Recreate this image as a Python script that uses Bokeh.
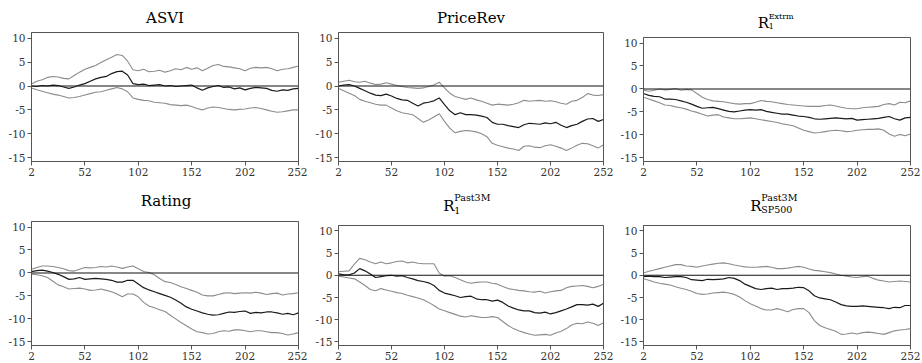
from bokeh.plotting import figure
from bokeh.models import Range1d, FixedTicker, Span, Div, CustomJSTickFormatter
from bokeh.layouts import column, row
from bokeh.embed import file_html
from bokeh.resources import INLINE

days = list(range(2, 253, 5))
x_ticks = [2, 52, 102, 152, 202, 252]
y_ticks = [-15, -10, -5, 0, 5, 10]

asvi_mid = [0.0, -0.1, 0.1, 0.0, 0.2, 0.1, -0.2, -0.5, -0.2, 0.2, 0.5, 1.0, 1.5, 1.8, 2.0, 2.6, 3.0, 3.1, 2.3, 0.5,
            0.3, 0.4, 0.1, 0.2, 0.3, 0.0, 0.1, -0.1, 0.0, 0.1, 0.2, -0.4, -0.9, -0.4, -0.1, 0.1, -0.3, -0.2, -0.6, -0.4,
            -0.8, -0.5, -0.3, -0.4, -0.5, -0.9, -1.1, -0.8, -0.9, -0.6, -0.5]
asvi_up = [0.4, 1.0, 1.3, 1.8, 2.0, 1.9, 1.6, 1.5, 2.2, 2.9, 3.5, 3.9, 4.3, 4.9, 5.5, 6.0, 6.6, 6.4, 5.2, 3.4,
           3.2, 3.5, 3.0, 3.1, 3.3, 2.9, 3.2, 3.6, 3.4, 3.9, 3.5, 3.8, 3.2, 3.7, 4.3, 4.5, 4.1, 4.0, 3.8, 3.6,
           3.2, 3.7, 3.9, 3.8, 3.9, 3.6, 3.2, 3.5, 3.6, 3.9, 4.2]
asvi_lo = [-0.4, -0.8, -1.1, -1.4, -1.7, -1.9, -2.2, -2.5, -2.4, -2.2, -1.9, -1.6, -1.3, -1.2, -0.9, -0.6, -0.3, -0.6, -1.2, -2.5,
           -2.8, -3.0, -3.1, -3.4, -3.5, -3.6, -3.9, -4.0, -4.1, -4.0, -4.3, -4.7, -5.0, -4.6, -4.4, -4.5, -4.7, -4.9, -5.0, -4.9,
           -4.8, -4.6, -4.5, -4.7, -5.0, -5.3, -5.5, -5.4, -5.2, -5.0, -5.0]

prev_mid = [0.0, 0.2, 0.3, 0.0, -0.5, -1.0, -1.5, -1.9, -2.0, -1.7, -2.1, -2.6, -2.9, -3.0, -3.6, -4.2, -3.6, -3.4, -3.1, -2.5,
            -3.9, -5.2, -6.0, -5.6, -6.0, -6.0, -6.1, -6.3, -6.6, -7.6, -8.0, -8.0, -8.3, -8.5, -8.7, -8.1, -7.8, -7.9, -8.0, -7.7,
            -7.9, -7.6, -8.2, -8.7, -8.3, -8.0, -7.4, -6.9, -6.8, -7.4, -7.0]
prev_up = [0.8, 1.0, 1.2, 0.9, 0.8, 1.0, 0.6, 0.3, 0.4, 0.7, 0.4, 0.1, -0.1, -0.3, -0.4, -0.5, -0.4, -0.1, 0.2, 0.8,
           -0.4, -1.5, -2.2, -2.5, -2.8, -2.5, -2.9, -3.2, -3.6, -4.0, -3.8, -3.9, -4.0, -3.8, -3.5, -3.0, -3.2, -3.1, -3.0, -3.2,
           -3.1, -3.3, -3.6, -3.8, -3.2, -3.0, -2.4, -1.6, -1.9, -2.0, -1.8]
prev_lo = [-0.5, -1.0, -1.5, -2.0, -2.8, -3.2, -3.5, -3.8, -4.0, -4.0, -4.6, -5.2, -5.6, -5.8, -6.0, -6.8, -7.6, -7.1, -6.5, -5.8,
           -7.4, -8.8, -9.8, -9.5, -9.3, -9.4, -9.6, -10.0, -10.6, -12.0, -12.4, -12.7, -13.0, -13.2, -13.5, -12.6, -12.5, -12.8, -12.9, -12.5,
           -12.3, -12.6, -13.0, -13.5, -13.0, -12.4, -12.0, -12.1, -12.5, -13.0, -12.3]

extrm_mid = [-1.0, -1.4, -1.6, -1.7, -2.2, -2.2, -2.3, -2.6, -2.9, -3.3, -3.8, -4.2, -4.1, -4.0, -4.3, -4.6, -4.9, -5.0, -4.8, -4.6,
             -4.5, -4.6, -4.5, -4.9, -5.1, -5.3, -5.5, -5.5, -5.7, -5.9, -6.0, -6.2, -6.5, -6.6, -6.5, -6.4, -6.3, -6.4, -6.5, -6.4,
             -6.8, -6.7, -6.6, -6.5, -6.4, -6.2, -6.0, -6.5, -6.8, -6.3, -6.2]
extrm_up = [-0.3, -0.5, -0.3, 0.0, -0.2, -0.1, 0.1, -0.3, -0.1, -0.2, -1.0, -1.8, -2.3, -2.6, -2.7, -2.8, -3.0, -3.2, -3.3, -3.2,
            -3.2, -2.9, -2.5, -2.7, -2.8, -3.0, -3.2, -3.4, -3.5, -3.6, -3.7, -3.8, -3.8, -3.8, -3.6, -3.5, -3.7, -4.0, -4.2, -4.3,
            -4.3, -4.1, -4.0, -3.9, -3.8, -3.4, -3.2, -3.5, -2.9, -3.0, -2.6]
extrm_lo = [-1.8, -2.2, -2.6, -3.0, -3.5, -3.6, -3.9, -4.1, -4.4, -4.8, -5.1, -5.5, -5.9, -5.7, -5.6, -6.1, -6.3, -6.5, -6.5, -6.4,
            -6.3, -6.5, -6.7, -6.9, -7.1, -7.3, -7.6, -7.8, -8.0, -8.5, -9.0, -9.3, -9.6, -9.5, -9.3, -9.1, -9.0, -9.1, -9.3, -9.2,
            -9.0, -8.9, -8.8, -8.8, -8.7, -9.0, -9.8, -10.3, -9.9, -10.2, -9.8]

rating_mid = [0.3, 0.5, 0.6, 0.4, 0.1, -0.3, -0.8, -1.4, -1.3, -1.0, -1.4, -1.3, -1.2, -1.3, -1.4, -1.6, -2.0, -2.0, -1.6, -1.6,
              -2.4, -3.2, -3.7, -4.1, -4.5, -4.9, -5.3, -5.9, -6.6, -7.4, -7.9, -8.3, -8.7, -9.0, -9.2, -9.1, -8.8, -8.5, -8.6, -8.4,
              -8.3, -8.8, -8.6, -8.7, -8.5, -8.5, -8.7, -9.0, -8.8, -9.1, -8.7]
rating_up = [0.8, 1.2, 1.5, 1.5, 1.4, 1.2, 0.9, 0.5, 0.4, 0.8, 1.2, 1.1, 1.2, 1.4, 1.3, 1.5, 1.3, 1.0, 1.3, 1.5,
             0.9, 0.3, 0.1, -0.4, -1.2, -1.9, -2.1, -2.5, -3.0, -3.4, -3.8, -4.2, -4.8, -5.0, -5.0, -4.7, -4.4, -4.3, -4.5, -4.4,
             -4.3, -4.4, -4.2, -4.4, -4.7, -4.5, -4.4, -4.8, -4.6, -4.5, -4.3]
rating_lo = [-0.3, -0.4, -0.6, -1.0, -1.8, -2.6, -3.0, -3.5, -3.4, -3.3, -3.5, -3.8, -3.7, -3.5, -3.8, -4.1, -4.6, -5.2, -4.6, -4.6,
             -5.2, -6.4, -7.2, -7.6, -8.0, -8.4, -9.2, -10.0, -10.8, -11.5, -12.2, -12.8, -13.0, -13.3, -13.2, -12.8, -12.6, -12.7, -12.4, -12.4,
             -12.6, -12.8, -12.6, -12.6, -12.8, -13.0, -13.0, -13.2, -13.5, -13.3, -13.0]

past_mid = [0.3, 0.1, 0.1, 0.5, 1.5, 1.0, 0.3, -0.5, -0.3, -0.1, 0.0, -0.2, -0.1, -0.5, -0.8, -1.2, -1.4, -1.7, -2.3, -3.4,
            -4.0, -4.3, -4.6, -5.0, -4.8, -4.7, -5.3, -5.5, -5.5, -5.8, -5.6, -6.1, -6.9, -7.4, -7.8, -8.0, -8.0, -8.4, -8.5, -8.3,
            -8.7, -8.4, -8.0, -7.6, -7.1, -6.6, -6.6, -6.7, -6.5, -7.0, -6.3]
past_up = [0.8, 0.9, 1.0, 2.5, 3.8, 3.5, 3.0, 2.6, 3.0, 2.6, 2.8, 3.1, 3.2, 2.8, 3.0, 2.7, 2.6, 2.6, 2.6, 0.5,
           -0.2, -0.1, -0.5, -1.0, -1.5, -1.8, -1.6, -1.5, -1.5, -1.8, -2.0, -2.5, -3.0, -3.2, -3.4, -3.5, -3.7, -3.8, -3.6, -4.0,
           -3.7, -3.5, -3.4, -2.8, -2.5, -2.4, -2.3, -2.5, -2.8, -2.5, -2.0]
past_lo = [-0.2, -0.4, -0.6, -0.8, -1.5, -2.3, -3.2, -3.5, -3.0, -3.3, -3.6, -3.9, -4.1, -4.5, -4.8, -5.1, -5.5, -6.1, -6.8, -7.6,
           -8.0, -8.4, -8.8, -9.2, -9.4, -9.1, -9.3, -9.5, -9.5, -9.3, -9.5, -10.4, -11.3, -12.0, -12.5, -12.9, -13.2, -13.5, -13.4, -13.3,
           -13.5, -13.0, -12.6, -12.0, -11.2, -10.8, -10.9, -10.5, -10.8, -11.3, -10.7]

sp_mid = [-0.3, -0.2, -0.3, -0.3, -0.5, -0.4, -0.3, -0.3, -0.5, -1.0, -1.1, -1.2, -0.9, -1.0, -0.9, -0.8, -0.5, -0.7, -1.2, -2.0,
          -2.5, -3.0, -3.2, -3.0, -2.9, -3.2, -3.0, -3.0, -2.9, -2.7, -2.8, -3.5, -4.6, -5.1, -5.3, -5.5, -6.0, -6.6, -6.9, -7.0,
          -7.0, -6.9, -7.0, -7.1, -7.2, -7.3, -7.5, -7.2, -7.3, -6.8, -6.8]
sp_up = [0.5, 0.9, 1.2, 1.5, 1.8, 2.1, 2.4, 2.4, 2.1, 2.0, 1.8, 2.1, 2.3, 2.5, 2.7, 2.8, 2.6, 2.3, 2.1, 1.9,
         1.8, 1.8, 1.9, 2.0, 1.8, 1.5, 1.5, 1.6, 1.8, 2.0, 1.8, 1.4, 1.1, 1.0, 0.8, 0.6, 0.3, 0.0, -0.2, -0.4,
         -0.5, -0.3, -0.2, -0.7, -1.1, -1.3, -1.5, -1.4, -1.3, -1.4, -1.5]
sp_lo = [-0.8, -1.1, -1.5, -1.8, -2.0, -2.2, -2.6, -2.9, -3.2, -3.6, -4.1, -4.3, -4.2, -4.0, -3.9, -3.8, -4.0, -4.3, -4.9, -5.7,
         -6.4, -6.9, -7.5, -7.8, -7.8, -7.5, -7.8, -8.2, -7.7, -7.5, -7.5, -8.4, -10.2, -11.3, -11.8, -12.2, -12.6, -13.3, -13.2, -13.0,
         -13.2, -12.9, -12.8, -12.9, -13.1, -13.3, -12.9, -12.5, -12.3, -12.2, -12.0]

FONT = "DejaVu Serif"
AX = "#555555"


def make_panel(w, h, bl, br, bt, bb, mid, up, lo):
    p = figure(width=w, height=h, output_backend="svg", toolbar_location=None, title=None,
               x_range=Range1d(2, 252), y_range=Range1d(-15.8, 11.2),
               min_border_left=bl, min_border_right=br, min_border_top=bt, min_border_bottom=bb,
               background_fill_color="white", border_fill_color="white")
    p.grid.visible = False
    p.outline_line_color = AX
    p.outline_line_width = 1
    p.xaxis.ticker = FixedTicker(ticks=x_ticks)
    p.yaxis.ticker = FixedTicker(ticks=y_ticks)
    p.yaxis.formatter = CustomJSTickFormatter(code="return tick.toString();")
    for ax in (p.xaxis[0], p.yaxis[0]):
        ax.axis_line_color = AX
        ax.major_tick_line_color = AX
        ax.major_tick_out = 4
        ax.major_tick_in = 0
        ax.minor_tick_out = 0
        ax.minor_tick_in = 0
        ax.major_label_text_font = FONT
        ax.major_label_text_font_size = "10.5px"
        ax.major_label_text_color = "#333333"
        ax.major_label_standoff = 2
    p.add_layout(Span(location=0, dimension="width", line_color="#111111", line_width=1.1))
    p.line(days, up, line_color="#8c8c8c", line_width=1.1)
    p.line(days, lo, line_color="#8c8c8c", line_width=1.1)
    p.line(days, mid, line_color="#1a1a1a", line_width=1.2)
    return p


def span_html(text, left, top, size, center=False):
    shift = "transform:translateX(-50%);" if center else ""
    return (f'<span style="position:absolute;left:{left}px;top:{top}px;font-size:{size}px;'
            f'line-height:{size}px;white-space:nowrap;font-weight:normal;{shift}">{text}</span>')


def title_div(w, h, parts):
    inner = "".join(parts)
    html = (f'<div style="position:relative;width:{w}px;height:{h}px;overflow:visible;'
            f"font-family:'{FONT}', serif;font-weight:normal;color:black;\">{inner}</div>")
    return Div(text=html, width=w, height=h, margin=(0, 0, 0, 0), styles={"overflow": "visible"})


# Row 1
d1 = title_div(307, 30, [span_html("ASVI", 165, 10.6, 15, center=True)])
p1 = make_panel(307, 150, 31, 9, 2, 19, asvi_mid, asvi_up, asvi_lo)

d2 = title_div(307, 30, [span_html("PriceRev", 164, 10.6, 15, center=True)])
p2 = make_panel(307, 150, 31, 11, 2, 19, prev_mid, prev_up, prev_lo)

d3 = title_div(308, 35, [span_html("R", 143.7, 15.6, 15),
                         span_html("1", 154.7, 22.5, 8),
                         span_html("Extrm", 154.7, 12.5, 8)])
p3 = make_panel(308, 145, 29, 12, 2, 19, extrm_mid, extrm_up, extrm_lo)

# Row 2
d4 = title_div(307, 39, [span_html("Rating", 166, 14, 15, center=True)])
p4 = make_panel(307, 144, 31, 9, 2, 18, rating_mid, rating_up, rating_lo)

d5 = title_div(307, 43, [span_html("R", 136.3, 19, 15),
                         span_html("1", 147.3, 26, 9.5),
                         span_html("Past3M", 147.3, 13, 9.5)])
p5 = make_panel(307, 140, 31, 11, 2, 18, past_mid, past_up, past_lo)

d6 = title_div(308, 43, [span_html("R", 136.3, 19, 15),
                         span_html("SP500", 147.3, 25.3, 9.5),
                         span_html("Past3M", 147.3, 13, 9.5)])
p6 = make_panel(308, 140, 29, 12, 2, 18, sp_mid, sp_up, sp_lo)

layout = column(row(column(d1, p1), column(d2, p2), column(d3, p3)),
                row(column(d4, p4), column(d5, p5), column(d6, p6)))

open("out.html", "w").write(file_html(layout, INLINE))
